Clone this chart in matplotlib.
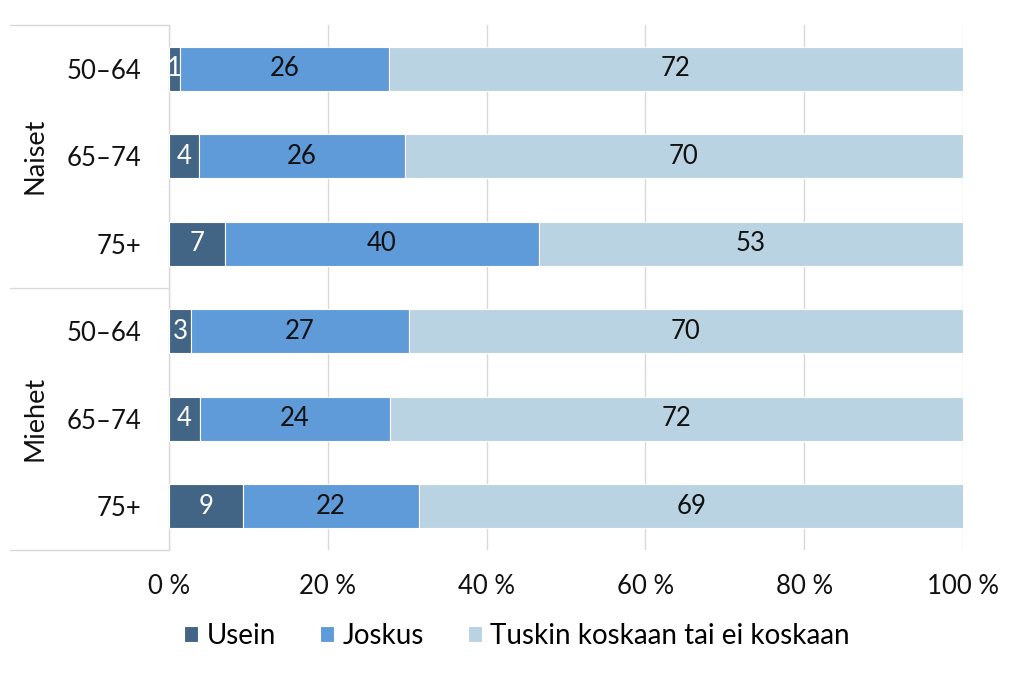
import matplotlib
matplotlib.use("Agg")
import matplotlib.pyplot as plt
import matplotlib.transforms as mtransforms
import numpy as np

plt.rcParams['font.family'] = ['Lato', 'DejaVu Sans']

groups = ["Naiset", "Miehet"]
ages = ["50–64", "65–74", "75+", "50–64", "65–74", "75+"]
series = ["Usein", "Joskus", "Tuskin koskaan tai ei koskaan"]
usein = [1.4, 3.8, 7.05, 2.8, 3.9, 9.3]
joskus = [26.3, 25.9, 39.55, 27.4, 23.9, 22.2]
tuskin = [72.3, 70.3, 53.4, 69.8, 72.2, 68.6]
xticks = [0, 20, 40, 60, 80, 100]
xticklabels = ["0 %", "20 %", "40 %", "60 %", "80 %", "100 %"]

colors = ["#426585", "#5f9bd8", "#bad3e2"]
text_colors = ["white", "#111111", "#111111"]
FS = 18.5

fig = plt.figure(figsize=(10.24, 6.73), dpi=100)
ax = fig.add_axes([169/1024, 1-550/673, (963-169)/1024, 525/673])

y = np.arange(len(ages))
left = np.zeros(len(ages))
for vals, col, tc, name in zip([usein, joskus, tuskin], colors, text_colors, series):
    vals = np.array(vals)
    ax.barh(y, vals, left=left, height=0.5, color=col, edgecolor="white",
            linewidth=0.8, label=name, zorder=3)
    for yi, l, v in zip(y, left, vals):
        ax.text(l + v/2, yi, f"{int(round(v))}", ha="center", va="center",
                color=tc, fontsize=FS, zorder=4)
    left = left + vals

ax.set_xlim(0, 100)
ax.set_ylim(5.5, -0.5)
ax.set_xticks(xticks)
ax.set_xticklabels(xticklabels, fontsize=FS, color="#111111")
ax.set_yticks(y)
ax.set_yticklabels(ages, fontsize=FS, color="#111111")
ax.tick_params(axis="y", length=0, pad=20)
ax.tick_params(axis="x", length=0, pad=17)
ax.grid(axis="x", color="#d9d9d9", linewidth=1, zorder=0)
for s in ["top", "right", "bottom"]:
    ax.spines[s].set_visible(False)
ax.spines["left"].set_color("#d9d9d9")
ax.spines["left"].set_linewidth(1)

trans = mtransforms.blended_transform_factory(ax.transAxes, ax.transData)
for yy in [-0.5, 2.5, 5.5]:
    ax.plot([-0.2, 0], [yy, yy], transform=trans, color="#d9d9d9",
            linewidth=1, clip_on=False)
for gi, g in enumerate(groups):
    ax.text(-0.169, 1 + gi*3, g, transform=trans, rotation=90, ha="center",
            va="center", fontsize=FS + 1, color="#111111")

fig.legend(loc="center", bbox_to_anchor=(0.505, 1-636/673), ncol=3, frameon=False,
           fontsize=FS + 1.5, handlelength=0.5, handleheight=0.5, columnspacing=1.6,
           handletextpad=0.3)

fig.savefig("out.png", dpi=100)
